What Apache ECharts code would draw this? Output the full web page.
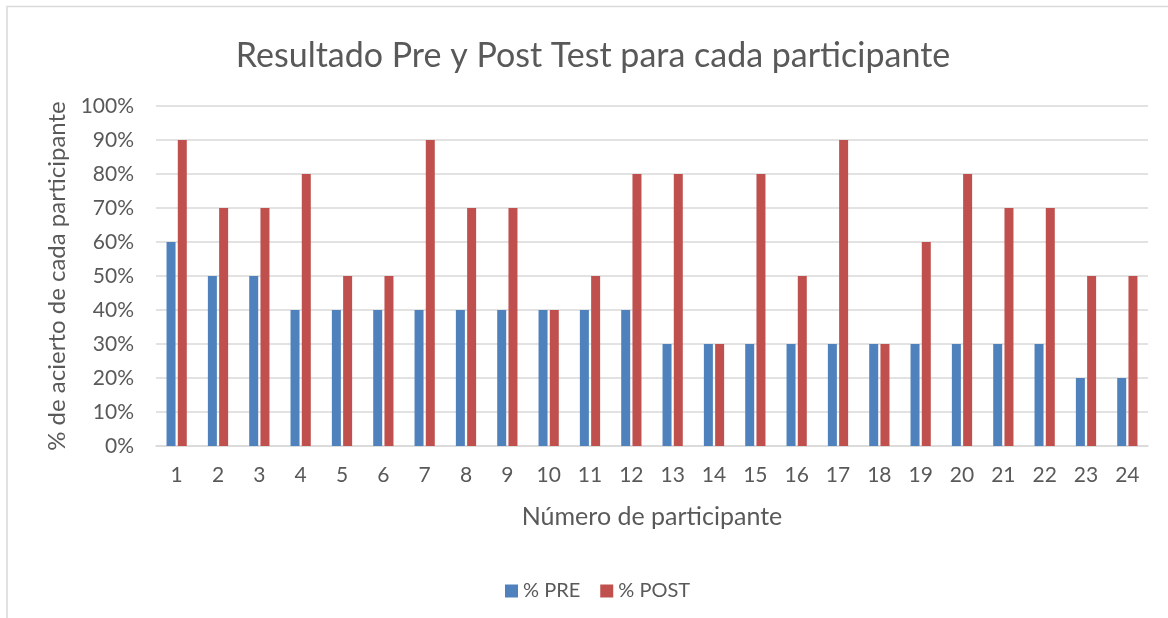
<!DOCTYPE html>
<html>
<head>
<meta charset="utf-8">
<script src="https://cdn.jsdelivr.net/npm/echarts@6/dist/echarts.min.js"></script>
<style>
  html, body { margin: 0; padding: 0; background: #fff; }
  #chart { width: 1168px; height: 618px; }
</style>
</head>
<body>
<div id="chart"></div>
<script>
const participants = ['1','2','3','4','5','6','7','8','9','10','11','12','13','14','15','16','17','18','19','20','21','22','23','24']
const pre = [0.6,0.5,0.5,0.4,0.4,0.4,0.4,0.4,0.4,0.4,0.4,0.4,0.3,0.3,0.3,0.3,0.3,0.3,0.3,0.3,0.3,0.3,0.2,0.2]
const post = [0.9,0.7,0.7,0.8,0.5,0.5,0.9,0.7,0.7,0.4,0.5,0.8,0.8,0.3,0.8,0.5,0.9,0.3,0.6,0.8,0.7,0.7,0.5,0.5]

const font = 'Lato, "Open Sans", sans-serif'
const textColor = '#595959'

const chart = echarts.init(document.getElementById('chart'))

chart.setOption({
  backgroundColor: '#fff',
  animation: false,
  textStyle: { fontFamily: font },
  title: {
    text: 'Resultado Pre y Post Test para cada participante',
    left: 588,
    top: 34,
    textAlign: 'center',
    textStyle: { fontFamily: font, fontSize: 34, fontWeight: 'normal', color: textColor },
  },
  graphic: [
    {
      type: 'rect',
      shape: { x: 7, y: 6.5, width: 1300, height: 800 },
      style: { fill: 'none', stroke: '#d9d9d9', lineWidth: 1.5 },
      silent: true,
    },
  ],
  legend: {
    left: 500,
    top: 576,
    itemWidth: 13,
    itemHeight: 13,
    itemGap: 20,
    icon: 'rect',
    textStyle: { fontFamily: font, fontSize: 20, color: textColor },
    data: ['% PRE', '% POST'],
  },
  grid: { left: 156, right: 20, top: 106, bottom: 172 },
  xAxis: {
    type: 'category',
    data: participants,
    name: 'Número de participante',
    nameLocation: 'middle',
    nameGap: 58,
    nameTextStyle: { fontFamily: font, fontSize: 25, color: textColor },
    axisLine: { lineStyle: { color: '#d9d9d9', width: 1.5 } },
    axisTick: { show: false },
    axisLabel: { fontFamily: font, fontSize: 21, color: textColor, margin: 19, interval: 0 },
  },
  yAxis: {
    type: 'value',
    min: 0,
    max: 1,
    interval: 0.1,
    name: '% de acierto de cada participante',
    nameLocation: 'middle',
    nameGap: 82,
    nameTextStyle: { fontFamily: font, fontSize: 24, color: textColor },
    axisLine: { show: false },
    axisTick: { show: false },
    axisLabel: {
      fontFamily: font, fontSize: 21, color: textColor, margin: 22,
      formatter: (v) => Math.round(v * 100) + '%',
    },
    splitLine: { lineStyle: { color: '#d9d9d9', width: 1.5 } },
  },
  series: [
    {
      name: '% PRE',
      type: 'bar',
      data: pre,
      barWidth: 9,
      barGap: '25%',
      itemStyle: { color: '#4f81bd' },
    },
    {
      name: '% POST',
      type: 'bar',
      data: post,
      barWidth: 9,
      barGap: '25%',
      itemStyle: { color: '#c0504d' },
    },
  ],
})
</script>
</body>
</html>
